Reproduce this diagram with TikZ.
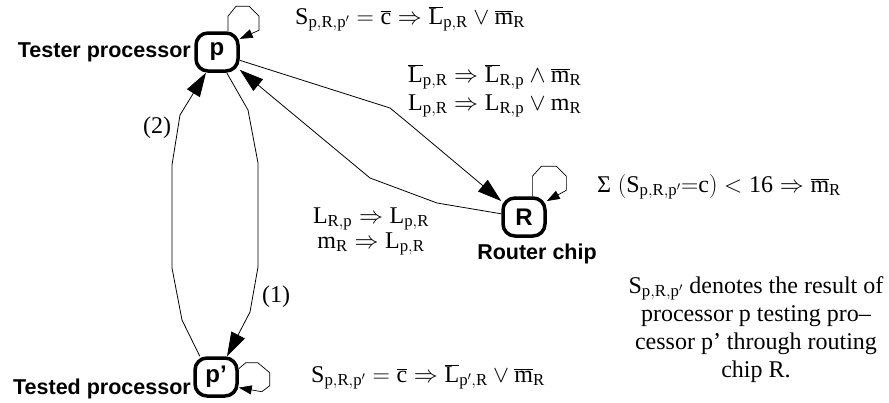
\RequirePackage{fix-cm}
\documentclass[tikz,border=0pt]{standalone}
\usepackage{fontspec}
\setmainfont{Liberation Serif}
\setsansfont{Liberation Sans}
\usetikzlibrary{arrows.meta}

% upright letters with a bar, upright subscripts
\newcommand{\ovl}[1]{\overline{\mathrm{#1}}}
\newcommand{\rs}[1]{_{\mathrm{#1}}}

\begin{document}
\begin{tikzpicture}[x=1pt, y=-1pt,
  procbox/.style={draw, line width=3.5pt, rounded corners=12pt, minimum width=42pt,
    minimum height=38pt, inner sep=0pt, font=\sffamily\bfseries\fontsize{24}{24}\selectfont},
  lbl/.style={font=\sffamily\bfseries\fontsize{21.5}{24}\selectfont, inner sep=0pt},
  eq/.style={font=\fontsize{24}{28}\selectfont, inner sep=0pt},
  bigarrow/.style={line width=0.8pt, -{Triangle[length=24pt, width=15pt]}},
  looparrow/.style={line width=0.7pt, -{Triangle[length=13pt, width=9pt]}}]
	\useasboundingbox (0,0) rectangle (889,402);
	
	% Processors and router chip
	\node[procbox] (tester) at (217,52) {p};
	\node[procbox] (router) at (524,217) {R};
	\node[procbox] (tested) at (216,377) {p’};
	
	% Names
	\node[lbl, anchor=base east] (testerlbl) at (191,57) {Tester processor};
	\node[lbl, anchor=base east] (testedlbl) at (191,394) {Tested processor};
	\node[lbl, anchor=base] (routerlbl) at (537,259) {Router chip};
	
	% Self loops
	\draw[looparrow] (tester.62) -- ++(0,-15) -- ++(8,-10) -- ++(13,0) -- ++(10,10) -- ++(0,14) -- (tester.30);
	\draw[looparrow] (router.68) -- ++(0,-20) -- ++(9,-10) -- ++(15,0) -- ++(10,10) -- ++(0,14) -- (router.35);
	\draw[looparrow] (tested.20) -- ++(7,-6) -- ++(12,0) -- ++(12,10) -- ++(0,13) -- ++(-8,6) -- (tested.-25);
	
	% Tester <-> router
	\draw[bigarrow] (tester.-20) -- (390,108) -- (407,122) -- (router.145);
	\draw[bigarrow] (router.172) -- (437,203) -- (370,178) -- (tester.-38);
	
	% Test (1) and answer (2)
	\draw[bigarrow] (tester.-65) -- (248,110) -- (258,163) -- (258,267) -- (250,312) -- (tested.62);
	\draw[bigarrow] (tested.128) -- (182,320) -- (172,268) -- (172,165) -- (180,115) -- (tester.-118);
	\node[eq] (one) at (276,297) {(1)};
	\node[eq] (two) at (157,128) {(2)};
	
	% Rules
	\node[eq, anchor=base west] (ruletester) at (295,24)
		{$\mathrm{S}\rs{p,R,p'}=\ovl{c}\Rightarrow\ovl{L}\rs{p,R}\vee\ovl{m}\rs{R}$};
	\node[eq, anchor=base west] (rulepr) at (408,82)
		{$\ovl{L}\rs{p,R}\Rightarrow\ovl{L}\rs{R,p}\wedge\ovl{m}\rs{R}$};
	\node[eq, anchor=base west] (rulepr2) at (408,110)
		{$\mathrm{L}\rs{p,R}\Rightarrow\mathrm{L}\rs{R,p}\vee\mathrm{m}\rs{R}$};
	\node[eq, anchor=base] (rulerp) at (371,223)
		{$\mathrm{L}\rs{R,p}\Rightarrow\mathrm{L}\rs{p,R}$};
	\node[eq, anchor=base] (rulerp2) at (371,248)
		{$\mathrm{m}\rs{R}\Rightarrow\mathrm{L}\rs{p,R}$};
	\node[eq, anchor=base west] (rulerouter) at (597,192)
		{$\mbox{Σ}\;(\mathrm{S}\rs{p,R,p'}{=}\mathrm{c})<\mathrm{16}\Rightarrow\ovl{m}\rs{R}$};
	\node[eq, anchor=base west] (ruletested) at (311,382)
		{$\mathrm{S}\rs{p,R,p'}=\ovl{c}\Rightarrow\ovl{L}\rs{p',R}\vee\ovl{m}\rs{R}$};
	
	% Note
	\node[eq, align=center, anchor=north] (note) at (756,276)
		{S$\rs{p,R,p'}$ denotes the result of\\processor p testing pro–\\cessor p’ through routing\\chip R.};
\end{tikzpicture}
\end{document}
